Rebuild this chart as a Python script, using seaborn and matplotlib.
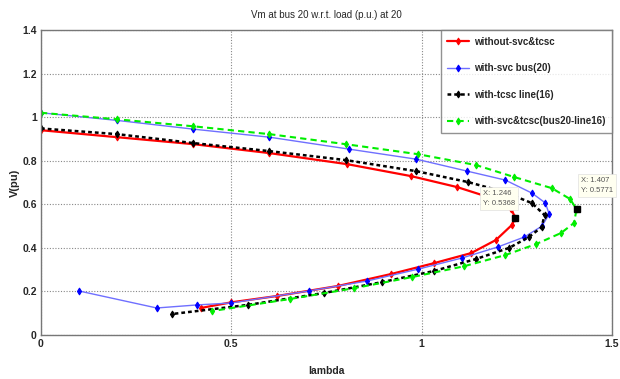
import matplotlib
matplotlib.use("Agg")
import matplotlib.pyplot as plt
import seaborn as sns
import pandas as pd

# Data (lambda, V(pu)) along each PV curve
red_x = [0.0, 0.2, 0.4, 0.6, 0.805, 0.973, 1.093, 1.19, 1.235, 1.246, 1.237, 1.195, 1.13, 1.033, 0.92, 0.78, 0.62, 0.5, 0.42]
red_y = [0.94, 0.908, 0.876, 0.835, 0.784, 0.729, 0.679, 0.625, 0.58, 0.537, 0.505, 0.436, 0.376, 0.33, 0.28, 0.225, 0.179, 0.15, 0.124]

blue_x = [0.0, 0.2, 0.4, 0.6, 0.81, 0.986, 1.12, 1.22, 1.29, 1.325, 1.335, 1.316, 1.27, 1.2, 1.105, 0.99, 0.857, 0.703, 0.5, 0.41, 0.304, 0.1]
blue_y = [1.02, 0.985, 0.945, 0.908, 0.853, 0.807, 0.752, 0.711, 0.651, 0.606, 0.555, 0.5, 0.45, 0.404, 0.353, 0.302, 0.248, 0.202, 0.147, 0.138, 0.124, 0.202]

black_x = [0.0, 0.2, 0.4, 0.6, 0.8, 0.986, 1.122, 1.22, 1.29, 1.323, 1.315, 1.282, 1.23, 1.143, 1.033, 0.897, 0.744, 0.543, 0.343]
black_y = [0.948, 0.922, 0.881, 0.844, 0.803, 0.752, 0.702, 0.655, 0.605, 0.55, 0.495, 0.45, 0.4, 0.349, 0.294, 0.243, 0.193, 0.138, 0.096]

green_x = [0.0, 0.2, 0.4, 0.6, 0.8, 0.99, 1.143, 1.243, 1.342, 1.39, 1.407, 1.40, 1.366, 1.30, 1.22, 1.11, 0.975, 0.823, 0.653, 0.45]
green_y = [1.02, 0.99, 0.958, 0.922, 0.876, 0.83, 0.78, 0.725, 0.674, 0.624, 0.577, 0.514, 0.468, 0.417, 0.367, 0.315, 0.266, 0.215, 0.165, 0.11]

labels = ["without-svc&tcsc", "with-svc bus(20)", "with-tcsc line(16)", "with-svc&tcsc(bus20-line16)"]
tip_x = [1.246, 1.407]
tip_y = [0.5368, 0.5771]
tip_text = ["X: 1.246\nY: 0.5368", "X: 1.407\nY: 0.5771"]

x_ticks = [0, 0.5, 1, 1.5]
x_ticklabels = ["0", "0.5", "1", "1.5"]
y_ticks = [0, 0.2, 0.4, 0.6, 0.8, 1.0, 1.2, 1.4]
y_ticklabels = ["0", "0.2", "0.4", "0.6", "0.8", "1", "1.2", "1.4"]

title = "Vm at bus 20 w.r.t. load (p.u.) at 20"
xlabel = "lambda"
ylabel = "V(pu)"

frames = []
for lab, xs, ys in zip(labels, [red_x, blue_x, black_x, green_x], [red_y, blue_y, black_y, green_y]):
    frames.append(pd.DataFrame({"lambda": xs, "V": ys, "series": lab, "order": range(len(xs))}))
df = pd.concat(frames, ignore_index=True)

sns.set_style("white")
fam = ["Liberation Sans Narrow", "Liberation Sans", "DejaVu Sans"]
plt.rcParams["font.family"] = fam
plt.rcParams["font.weight"] = "bold"

fig = plt.figure(figsize=(6.2, 3.79), dpi=100)
ax = fig.add_axes([41 / 620, 1 - 335 / 379, (612 - 41) / 620, (335 - 30) / 379])

styles = {
    labels[0]: dict(color="#ff0000", linestyle="-", lw=1.6, mc="#ff0000"),
    labels[1]: dict(color="#6f6fff", linestyle="-", lw=1.0, mc="#0000ff"),
    labels[2]: dict(color="#000000", linestyle=(0, (1.5, 1.2)), lw=1.8, mc="#000000"),
    labels[3]: dict(color="#00ee00", linestyle=(0, (3, 2)), lw=1.5, mc="#00ee00"),
}

for lab in labels:
    st = styles[lab]
    sub = df[df["series"] == lab]
    sns.lineplot(data=sub, x="lambda", y="V", sort=False, estimator=None, ax=ax,
                 color=st["color"], linestyle=st["linestyle"], linewidth=st["lw"],
                 marker="d", markersize=3.5, markerfacecolor=st["mc"], markeredgecolor=st["mc"],
                 label=lab)

# data tips
for tx, ty, tt, off in zip(tip_x, tip_y, tip_text, [(-0.085, 0.13), (0.012, 0.15)]):
    ax.plot([tx], [ty], marker="s", color="black", markersize=4.5, linestyle="none", zorder=6)
    ax.text(tx + off[0], ty + off[1], tt, fontsize=5.5, fontweight="normal", color="#555555",
            va="top", ha="left", family=fam, linespacing=1.7, zorder=7,
            bbox=dict(boxstyle="square,pad=0.4", fc="#fffff0", ec="#e0e0e0", lw=0.5))

ax.set_xlim(0, 1.5)
ax.set_ylim(0, 1.4)
ax.set_xticks(x_ticks)
ax.set_xticklabels(x_ticklabels, fontsize=7.5, fontweight="bold")
ax.set_yticks(y_ticks)
ax.set_yticklabels(y_ticklabels, fontsize=7.5, fontweight="bold")
ax.grid(True, color="#888888", linestyle=(0, (1, 1.5)), linewidth=0.8)
for s in ax.spines.values():
    s.set_color("#777777")
    s.set_linewidth(1.0)
ax.tick_params(axis="both", length=0, pad=3)

ax.set_title(title, fontsize=7, fontweight="normal", pad=9)
ax.set_xlabel(xlabel, fontsize=7.5, fontweight="bold", labelpad=12)
ax.set_ylabel(ylabel, fontsize=8, fontweight="bold", labelpad=2)

leg = ax.legend(loc="upper right", fontsize=7, frameon=True, fancybox=False, numpoints=1,
                borderaxespad=0.0, handlelength=2.2, handletextpad=0.5,
                labelspacing=1.7, borderpad=0.7, markerscale=1.0)
leg.get_frame().set_edgecolor("#777777")
leg.get_frame().set_linewidth(1.0)
leg.set_zorder(10)
for t in leg.get_texts():
    t.set_fontweight("bold")

fig.savefig("out.png", dpi=100)
